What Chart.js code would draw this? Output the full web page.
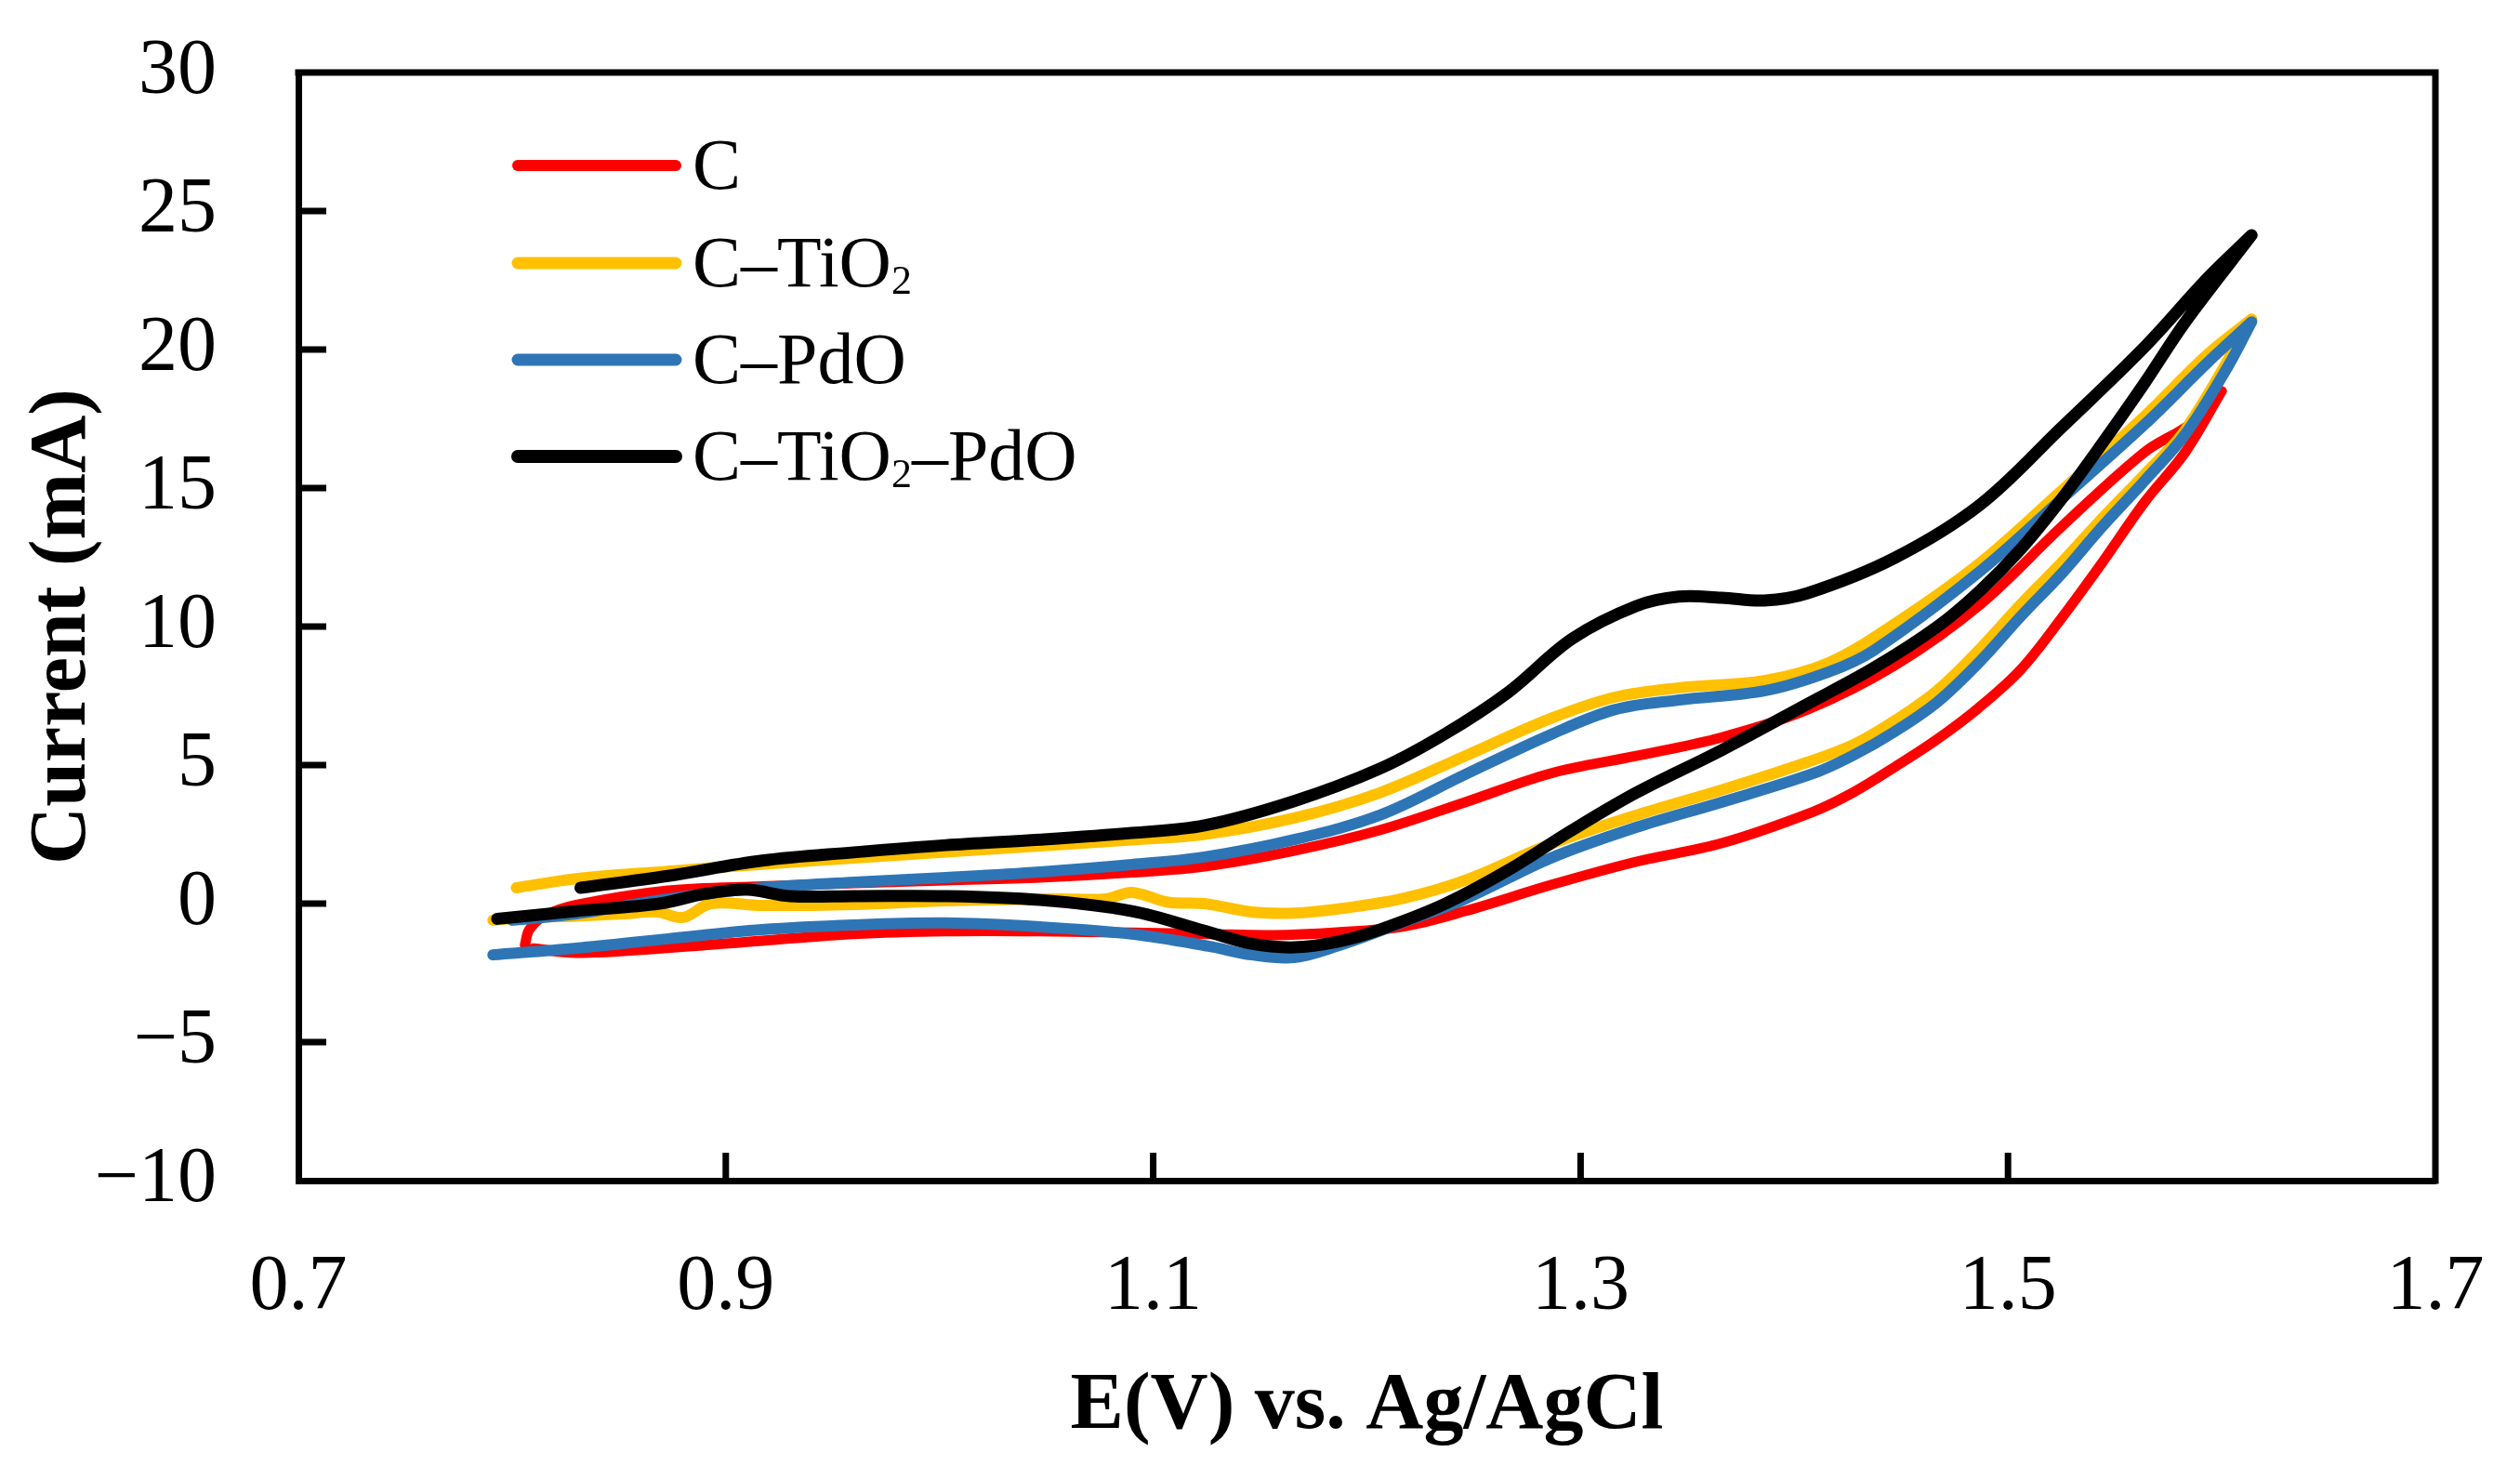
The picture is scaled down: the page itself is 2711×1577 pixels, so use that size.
<!DOCTYPE html>
<html>
<head>
<meta charset="utf-8">
<script src="https://cdn.jsdelivr.net/npm/chart.js@4.4.0/dist/chart.umd.min.js"></script>
<style>
html,body{margin:0;padding:0;background:#fff;}
#wrap{width:2711px;height:1577px;position:relative;}
</style>
</head>
<body>
<div id="wrap"><canvas id="c"></canvas></div>
<script>
// ---------- data ----------
const seriesNames = ['C', 'C–TiO₂', 'C–PdO', 'C–TiO₂–PdO'];

// C : anodic branch then cathodic branch (vertex repeated for a sharp turn)
const cE = [0.806,0.808,0.815,0.83,0.873,0.917,0.96,1.003,1.047,1.09,1.124,1.166,1.206,1.246,1.286,1.326,1.366,1.406,1.447,1.487,1.525,1.564,1.585,1.600,1.600,
            1.583,1.564,1.544,1.525,1.506,1.486,1.467,1.447,1.428,1.409,1.366,1.326,1.286,1.246,1.216,1.186,1.156,1.126,1.09,1.047,1.003,0.96,0.917,0.873,0.83,0.81];
const cI = [-1.50,-0.95,-0.45,-0.05,0.47,0.62,0.74,0.84,0.94,1.12,1.34,1.91,2.65,3.66,4.70,5.33,6.00,7.00,8.60,10.8,13.6,16.3,17.3,18.5,18.5,
            16.3,14.5,12.3,10.3,8.45,7.05,5.94,4.93,4.03,3.32,2.18,1.51,0.67,-0.27,-0.84,-1.04,-1.14,-1.10,-1.05,-1.00,-1.00,-1.10,-1.34,-1.60,-1.78,-1.62];

const tiE = [0.802,0.83,0.873,0.917,0.96,1.003,1.047,1.09,1.124,1.166,1.206,1.246,1.286,1.316,1.346,1.386,1.416,1.447,1.487,1.525,1.564,1.593,1.614,1.614,
             1.583,1.564,1.544,1.525,1.506,1.487,1.467,1.447,1.428,1.406,1.366,1.326,1.286,1.246,1.216,1.186,1.166,1.146,1.124,1.107,1.09,1.078,1.056,1.003,0.96,0.917,0.893,0.88,0.868,0.852,0.83,0.809,0.791];
const tiI = [0.57,0.90,1.17,1.42,1.64,1.86,2.08,2.30,2.50,3.09,4.00,5.33,6.68,7.45,7.79,8.05,8.69,10.1,12.3,14.9,17.6,19.8,21.1,21.1,
             17.1,15.5,13.9,12.3,10.8,9.2,7.7,6.6,5.75,5.1,4.1,3.19,2.15,0.84,0.17,-0.20,-0.34,-0.30,0.00,0.05,0.40,0.17,0.17,0.10,-0.03,-0.07,0.00,-0.50,-0.30,-0.37,-0.45,-0.50,-0.60];

const pdE = [0.800,0.83,0.873,0.917,0.96,1.003,1.047,1.09,1.124,1.166,1.206,1.246,1.286,1.316,1.346,1.386,1.416,1.437,1.487,1.525,1.564,1.593,1.614,1.614,
             1.603,1.583,1.564,1.544,1.525,1.506,1.487,1.467,1.447,1.428,1.409,1.366,1.326,1.286,1.246,1.216,1.186,1.166,1.146,1.126,1.09,1.047,1.003,0.96,0.917,0.873,0.83,0.791];
const pdI = [-0.60,-0.37,0.17,0.57,0.77,0.94,1.14,1.41,1.68,2.31,3.19,4.66,6.10,7.00,7.35,7.68,8.36,9.13,12.0,14.6,17.3,19.5,21.0,21.0,
             19.4,16.95,15.27,13.6,11.9,10.37,8.75,7.28,6.21,5.37,4.70,3.66,2.75,1.64,0.17,-0.70,-1.54,-1.95,-1.85,-1.54,-1.10,-0.84,-0.70,-0.77,-0.94,-1.27,-1.61,-1.85];

const tpE = [0.832,0.873,0.917,0.96,1.003,1.047,1.09,1.124,1.166,1.206,1.236,1.266,1.296,1.326,1.346,1.366,1.386,1.406,1.447,1.487,1.525,1.564,1.593,1.614,1.614,
             1.583,1.564,1.544,1.525,1.506,1.487,1.467,1.437,1.406,1.366,1.326,1.296,1.266,1.236,1.206,1.186,1.166,1.146,1.124,1.09,1.047,1.003,0.96,0.93,0.91,0.89,0.869,0.83,0.793];
const tpI = [0.57,1.00,1.55,1.85,2.11,2.31,2.55,2.82,3.70,4.87,6.10,7.62,9.56,10.74,11.08,11.04,10.94,11.20,12.48,14.4,17.18,20.1,22.55,24.13,24.13,
             21.0,18.8,16.6,14.6,12.8,11.3,10.0,8.50,7.20,5.54,4.00,2.65,1.20,-0.03,-0.94,-1.38,-1.58,-1.45,-0.98,-0.27,0.13,0.27,0.27,0.27,0.50,0.35,0.00,-0.27,-0.55];

const xTickValues = [0.7, 0.9, 1.1, 1.3, 1.5, 1.7];
const xTickLabels = ['0.7', '0.9', '1.1', '1.3', '1.5', '1.7'];
const yTickValues = [-10, -5, 0, 5, 10, 15, 20, 25, 30];
const yTickLabels = ['−10', '−5', '0', '5', '10', '15', '20', '25', '30'];
const xTitle = 'E(V) vs. Ag/AgCl';
const yTitle = 'Current (mA)';

// ---------- chart ----------
const FONT = "'Liberation Serif', 'Times New Roman', serif";
const colors = ['#FF0000', '#FFC000', '#2E75B6', '#000000'];
const widths = [11, 12, 12, 13];
const drawOrder = [4, 3, 2, 1];
const xs = [cE, tiE, pdE, tpE];
const ys = [cI, tiI, pdI, tpI];

function pts(a, b) { return a.map((v, i) => ({ x: v, y: b[i] })); }

const datasets = seriesNames.map((name, k) => ({
  label: name,
  data: pts(xs[k], ys[k]),
  borderColor: colors[k],
  backgroundColor: colors[k],
  borderWidth: widths[k],
  pointRadius: 0,
  pointHoverRadius: 0,
  tension: 0.35,
  fill: false,
  borderCapStyle: 'round',
  borderJoinStyle: 'round',
  order: drawOrder[k]
}));

function nearIdx(arr, v) { return arr.findIndex(t => Math.abs(t - v) < 1e-6); }

const framePlugin = {
  id: 'frameTicks',
  afterDraw(chart) {
    const { ctx, chartArea: a, scales } = chart;
    ctx.save();
    ctx.strokeStyle = '#000';
    ctx.lineWidth = 7;
    ctx.lineCap = 'square';
    ctx.beginPath();
    ctx.moveTo(a.left, a.top);
    ctx.lineTo(a.right, a.top);
    ctx.lineTo(a.right, a.bottom);
    ctx.stroke();
    ctx.lineCap = 'butt';
    const tl = 30;
    xTickValues.forEach(v => {
      if (v <= scales.x.min + 1e-6 || v >= scales.x.max - 1e-6) return;
      const px = scales.x.getPixelForValue(v);
      ctx.beginPath(); ctx.moveTo(px, a.bottom); ctx.lineTo(px, a.bottom - tl); ctx.stroke();
    });
    yTickValues.forEach(v => {
      if (v <= scales.y.min || v >= scales.y.max) return;
      const py = scales.y.getPixelForValue(v);
      ctx.beginPath(); ctx.moveTo(a.left, py); ctx.lineTo(a.left + tl, py); ctx.stroke();
    });
    ctx.restore();
  }
};

const legendPlugin = {
  id: 'innerLegend',
  afterDraw(chart) {
    const { ctx } = chart;
    const rows = [178, 283, 387, 491];
    const x1 = 557, x2 = 727, tx = 745, size = 78, sub = 44;
    ctx.save();
    chart.data.datasets.forEach((ds, i) => {
      const y = rows[i];
      ctx.strokeStyle = ds.borderColor;
      ctx.lineWidth = ds.borderWidth + 1;
      ctx.lineCap = 'round';
      ctx.beginPath(); ctx.moveTo(x1, y); ctx.lineTo(x2, y); ctx.stroke();
      const base = y + 25;
      let x = tx;
      ctx.fillStyle = '#000';
      ctx.textBaseline = 'alphabetic';
      ctx.textAlign = 'left';
      const parts = ds.label.split('₂');
      parts.forEach((p, j) => {
        ctx.font = size + 'px ' + FONT;
        ctx.fillText(p, x, base);
        x += ctx.measureText(p).width;
        if (j < parts.length - 1) {
          ctx.font = sub + 'px ' + FONT;
          ctx.fillText('2', x, base + 8);
          x += ctx.measureText('2').width;
        }
      });
    });
    ctx.restore();
  }
};

new Chart(document.getElementById('c'), {
  type: 'line',
  data: { datasets },
  plugins: [framePlugin, legendPlugin],
  options: {
    responsive: true,
    maintainAspectRatio: false,
    devicePixelRatio: 1,
    animation: false,
    parsing: true,
    layout: { padding: { top: 78, right: 91, bottom: 0, left: 0 } },
    plugins: { legend: { display: false }, tooltip: { enabled: false } },
    scales: {
      x: {
        type: 'linear',
        min: 0.7, max: 1.7,
        afterBuildTicks: s => { s.ticks = xTickValues.map(v => ({ value: v })); },
        afterFit: s => { s.height = 307; s.paddingLeft = 0; s.paddingRight = 0; },
        grid: { display: false, drawTicks: false, drawOnChartArea: false },
        border: { display: true, color: '#000', width: 7 },
        ticks: {
          callback: v => xTickLabels[nearIdx(xTickValues, v)],
          font: { family: FONT, size: 84 }, color: '#000',
          padding: 66, maxRotation: 0, autoSkip: false
        },
        title: { display: true, text: xTitle, color: '#000',
          font: { family: FONT, size: 86, weight: 'bold' }, padding: { top: 0, bottom: 12 } }
      },
      y: {
        type: 'linear',
        min: -10, max: 30,
        afterBuildTicks: s => { s.ticks = yTickValues.map(v => ({ value: v })); },
        afterFit: s => { s.width = 321; s.paddingTop = 0; s.paddingBottom = 0; },
        grid: { display: false, drawTicks: false, drawOnChartArea: false },
        border: { display: true, color: '#000', width: 7 },
        ticks: {
          callback: v => yTickLabels[nearIdx(yTickValues, v)],
          font: { family: FONT, size: 84 }, color: '#000',
          padding: 88, autoSkip: false
        },
        title: { display: true, text: yTitle, color: '#000',
          font: { family: FONT, size: 86, weight: 'bold' }, padding: { top: 17, bottom: 0 } }
      }
    }
  }
});
</script>
</body>
</html>
